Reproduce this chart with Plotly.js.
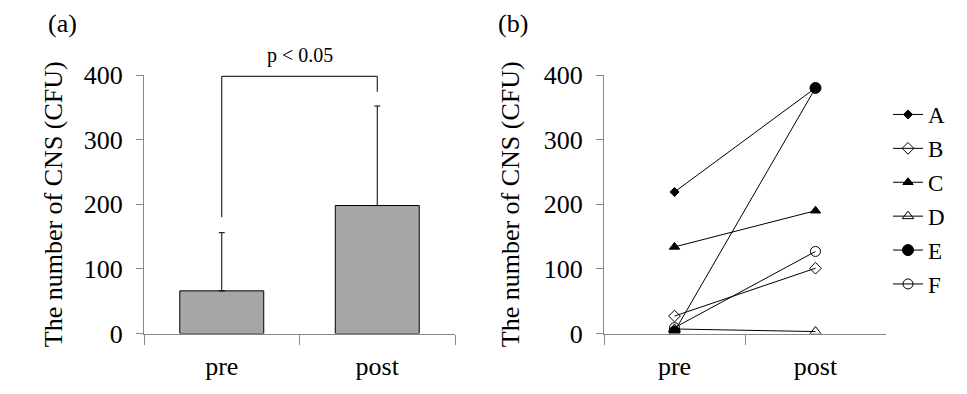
<!DOCTYPE html>
<html>
<head>
<meta charset="utf-8">
<script src="https://cdn.plot.ly/plotly-3.0.1.min.js"></script>
<style>html,body{margin:0;padding:0;background:#fff;}#chart{width:967px;height:394px;}</style>
</head>
<body>
<div id="chart"></div>
<script>
// ---- data ----
const categories = ['pre', 'post'];
const meanValues = [66, 198];
const sdValues = [90, 154];
const subjects = ['A', 'B', 'C', 'D', 'E', 'F'];
const preValues = [219, 27, 134, 7, 3, 9];
const postValues = [380, 101, 190, 3, 380, 127];
const bracketLeftY = 180;
const bracketTopY = 398;
const bracketRightY = 374;
const yTicks = [0, 100, 200, 300, 400];

const markerSymbols = ['diamond', 'diamond-open', 'triangle-up', 'triangle-up-open', 'circle', 'circle-open'];
const markerSizes = [7, 9, 9, 10, 11, 10];

const FONT = '"Liberation Serif", "Times New Roman", Times, serif';
const AXC = '#878787';

const traces = [];
traces.push({
  type: 'bar', x: categories, y: meanValues, xaxis: 'x', yaxis: 'y',
  marker: {color: '#a6a6a6', line: {color: '#000', width: 1}},
  error_y: {type: 'data', symmetric: false, array: sdValues, arrayminus: [0, 0], color: '#000', thickness: 1, width: 3},
  showlegend: false, hoverinfo: 'skip'
});
subjects.forEach((s, i) => {
  traces.push({
    type: 'scatter', mode: 'lines+markers', name: s,
    x: categories, y: [preValues[i], postValues[i]], xaxis: 'x2', yaxis: 'y2',
    line: {color: '#000', width: 1},
    marker: {symbol: markerSymbols[i], size: markerSizes[i], color: '#000', line: {color: '#000', width: 1}},
    legendgroup: s
  });
});

const yax = {
  range: [0, 400], tickvals: yTicks, showgrid: false, zeroline: false,
  showline: true, linecolor: AXC, linewidth: 1, ticks: 'outside', ticklen: 7, tickcolor: AXC,
  tickfont: {family: FONT, size: 26, color: '#000'}, ticklabelstandoff: 8,
  title: {text: 'The number of CNS (CFU)', font: {family: FONT, size: 26, color: '#000'}, standoff: 13},
  domain: [1 - 333.5 / 394, 1 - 75 / 394], fixedrange: true
};
const xax = {
  type: 'category', range: [-0.5, 1.5], showgrid: false, zeroline: false,
  showline: true, linecolor: AXC, linewidth: 1, ticks: 'outside', ticklen: 10, tickcolor: AXC,
  tickson: 'boundaries', ticklabelstandoff: 9,
  tickfont: {family: FONT, size: 26, color: '#000'}, fixedrange: true
};

const layout = {
  width: 967, height: 394,
  margin: {l: 0, r: 0, t: 0, b: 0},
  paper_bgcolor: '#fff', plot_bgcolor: 'rgba(0,0,0,0)',
  font: {family: FONT, color: '#000'},
  bargap: 0.46,
  xaxis: Object.assign({}, xax, {domain: [144 / 967, 455 / 967], anchor: 'y'}),
  yaxis: Object.assign({}, yax, {anchor: 'x'}),
  xaxis2: Object.assign({}, xax, {domain: [604 / 967, 886 / 967], anchor: 'y2'}),
  yaxis2: Object.assign({}, yax, {anchor: 'x2', title: Object.assign({}, yax.title, {standoff: 16})}),
  showlegend: true,
  legend: {x: 888 / 967, y: 1 - 93 / 394, xanchor: 'left', yanchor: 'top',
    font: {family: FONT, size: 23, color: '#000'}, tracegroupgap: 1, itemwidth: 30, bgcolor: 'rgba(0,0,0,0)'},
  shapes: [{
    type: 'path', xref: 'x', yref: 'y',
    path: 'M 0,' + bracketLeftY + ' L 0,' + bracketTopY + ' L 1,' + bracketTopY + ' L 1,' + bracketRightY,
    line: {color: '#000', width: 1}
  }],
  annotations: [
    {text: 'p < 0.05', xref: 'x', yref: 'y', x: 0.5, y: bracketTopY, yanchor: 'bottom', showarrow: false, yshift: 7,
      font: {family: FONT, size: 20, color: '#000'}},
    {text: '(a)', xref: 'paper', yref: 'paper', x: 46 / 967, y: 1 - 24 / 394, xanchor: 'left', yanchor: 'middle', showarrow: false,
      font: {family: FONT, size: 26, color: '#000'}},
    {text: '(b)', xref: 'paper', yref: 'paper', x: 496 / 967, y: 1 - 24 / 394, xanchor: 'left', yanchor: 'middle', showarrow: false,
      font: {family: FONT, size: 26, color: '#000'}}
  ]
};

Plotly.newPlot('chart', traces, layout, {staticPlot: true, displayModeBar: false});
</script>
</body>
</html>
